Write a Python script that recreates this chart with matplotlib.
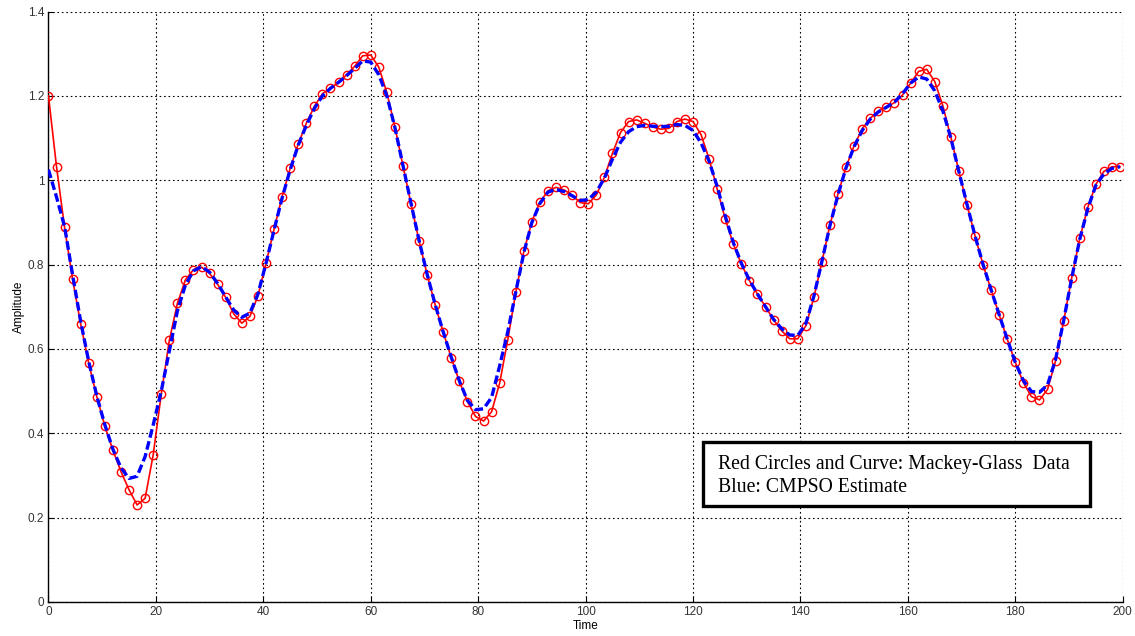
import numpy as np
import matplotlib
matplotlib.use('Agg')
import matplotlib.pyplot as plt
from matplotlib.patches import Rectangle

# Mackey-Glass samples (red) and CMPSO estimate (blue), one value every 1.5 time units
dt = 1.5
mg_data = [
    1.200, 1.032, 0.888, 0.765, 0.659, 0.566, 0.487, 0.417, 0.360, 0.309,
    0.266, 0.230, 0.246, 0.349, 0.493, 0.620, 0.708, 0.764, 0.788, 0.794,
    0.779, 0.753, 0.722, 0.683, 0.661, 0.677, 0.726, 0.803, 0.884, 0.961,
    1.028, 1.086, 1.135, 1.175, 1.205, 1.218, 1.232, 1.250, 1.270, 1.295,
    1.297, 1.268, 1.208, 1.126, 1.034, 0.944, 0.856, 0.776, 0.704, 0.639,
    0.579, 0.523, 0.475, 0.440, 0.429, 0.451, 0.519, 0.621, 0.734, 0.831,
    0.902, 0.948, 0.975, 0.983, 0.977, 0.965, 0.947, 0.944, 0.965, 1.007,
    1.064, 1.113, 1.139, 1.143, 1.135, 1.126, 1.121, 1.123, 1.139, 1.145,
    1.139, 1.108, 1.050, 0.979, 0.908, 0.849, 0.801, 0.762, 0.730, 0.700,
    0.669, 0.643, 0.624, 0.624, 0.655, 0.722, 0.807, 0.894, 0.968, 1.032,
    1.082, 1.122, 1.147, 1.164, 1.173, 1.184, 1.202, 1.230, 1.258, 1.263,
    1.234, 1.177, 1.102, 1.021, 0.942, 0.868, 0.799, 0.740, 0.681, 0.623,
    0.568, 0.520, 0.487, 0.479, 0.504, 0.572, 0.666, 0.769, 0.862, 0.936,
    0.990, 1.021, 1.032, 1.032,
]
cmpso_est = [
    1.025, 0.960, 0.890, 0.775, 0.665, 0.570, 0.488, 0.420, 0.362, 0.318,
    0.293, 0.298, 0.345, 0.420, 0.500, 0.595, 0.690, 0.752, 0.785, 0.795,
    0.782, 0.755, 0.723, 0.692, 0.675, 0.685, 0.730, 0.803, 0.882, 0.958,
    1.025, 1.083, 1.130, 1.170, 1.200, 1.218, 1.232, 1.248, 1.265, 1.283,
    1.280, 1.250, 1.200, 1.125, 1.035, 0.945, 0.857, 0.777, 0.705, 0.640,
    0.580, 0.524, 0.478, 0.456, 0.458, 0.485, 0.560, 0.640, 0.735, 0.828,
    0.900, 0.945, 0.972, 0.978, 0.973, 0.963, 0.952, 0.954, 0.972, 1.005,
    1.050, 1.090, 1.115, 1.127, 1.130, 1.128, 1.127, 1.128, 1.132, 1.130,
    1.118, 1.088, 1.045, 0.985, 0.915, 0.852, 0.803, 0.763, 0.730, 0.700,
    0.670, 0.648, 0.633, 0.632, 0.660, 0.725, 0.808, 0.893, 0.966, 1.030,
    1.080, 1.118, 1.145, 1.162, 1.173, 1.185, 1.205, 1.230, 1.245, 1.240,
    1.212, 1.165, 1.100, 1.020, 0.943, 0.868, 0.800, 0.740, 0.681, 0.623,
    0.568, 0.525, 0.499, 0.497, 0.515, 0.575, 0.667, 0.768, 0.860, 0.933,
    0.988, 1.015, 1.028, 1.032,
]
x_ticks = [0, 20, 40, 60, 80, 100, 120, 140, 160, 180, 200]
y_ticks = [0, 0.2, 0.4, 0.6, 0.8, 1.0, 1.2, 1.4]
y_labels = ['0', '0.2', '0.4', '0.6', '0.8', '1', '1.2', '1.4']

t = np.arange(len(mg_data)) * dt

plt.rcParams['font.family'] = ['Liberation Sans', 'DejaVu Sans']

fig = plt.figure(figsize=(11.35, 6.36), dpi=100)
ax = fig.add_axes([0.0427, 0.0535, 0.9465, 0.9284])

ax.plot(t, mg_data, color='red', lw=1.2, marker='o', ms=6, mfc='none',
        mec='red', mew=1.0, zorder=3)
ax.plot(t, cmpso_est, color='#0000ff', lw=2.4, dashes=(2.6, 1.1), zorder=4)

ax.set_xlim(0, 200)
ax.set_ylim(0, 1.4)
ax.set_xticks(x_ticks)
ax.set_yticks(y_ticks)
ax.set_yticklabels(y_labels)
ax.tick_params(direction='in', length=4, labelsize=8.5, labelcolor='#333333',
               pad=3)
ax.grid(True, color='black', linestyle=(0, (1.5, 2.5)), linewidth=0.8)

for side in ['top', 'right']:
    ax.spines[side].set_visible(False)
for side in ['left', 'bottom']:
    ax.spines[side].set_linewidth(1.0)

ax.set_xlabel('Time', fontsize=8.5, labelpad=1)
ax.set_ylabel('Amplitude', fontsize=8.5, labelpad=2)

# annotation box
box = Rectangle((0.6093, 0.1626), 0.3603, 0.1089, transform=ax.transAxes,
                facecolor='white', edgecolor='black', lw=2.4, zorder=6)
ax.add_patch(box)
ax.text(0.6233, 0.2252, 'Red Circles and Curve: Mackey-Glass  Data',
        transform=ax.transAxes, fontsize=14.2, family='Liberation Serif',
        va='baseline', zorder=7)
ax.text(0.6233, 0.1863, 'Blue: CMPSO Estimate', transform=ax.transAxes,
        fontsize=14.2, family='Liberation Serif', va='baseline', zorder=7)

fig.savefig('out.png', dpi=100)
